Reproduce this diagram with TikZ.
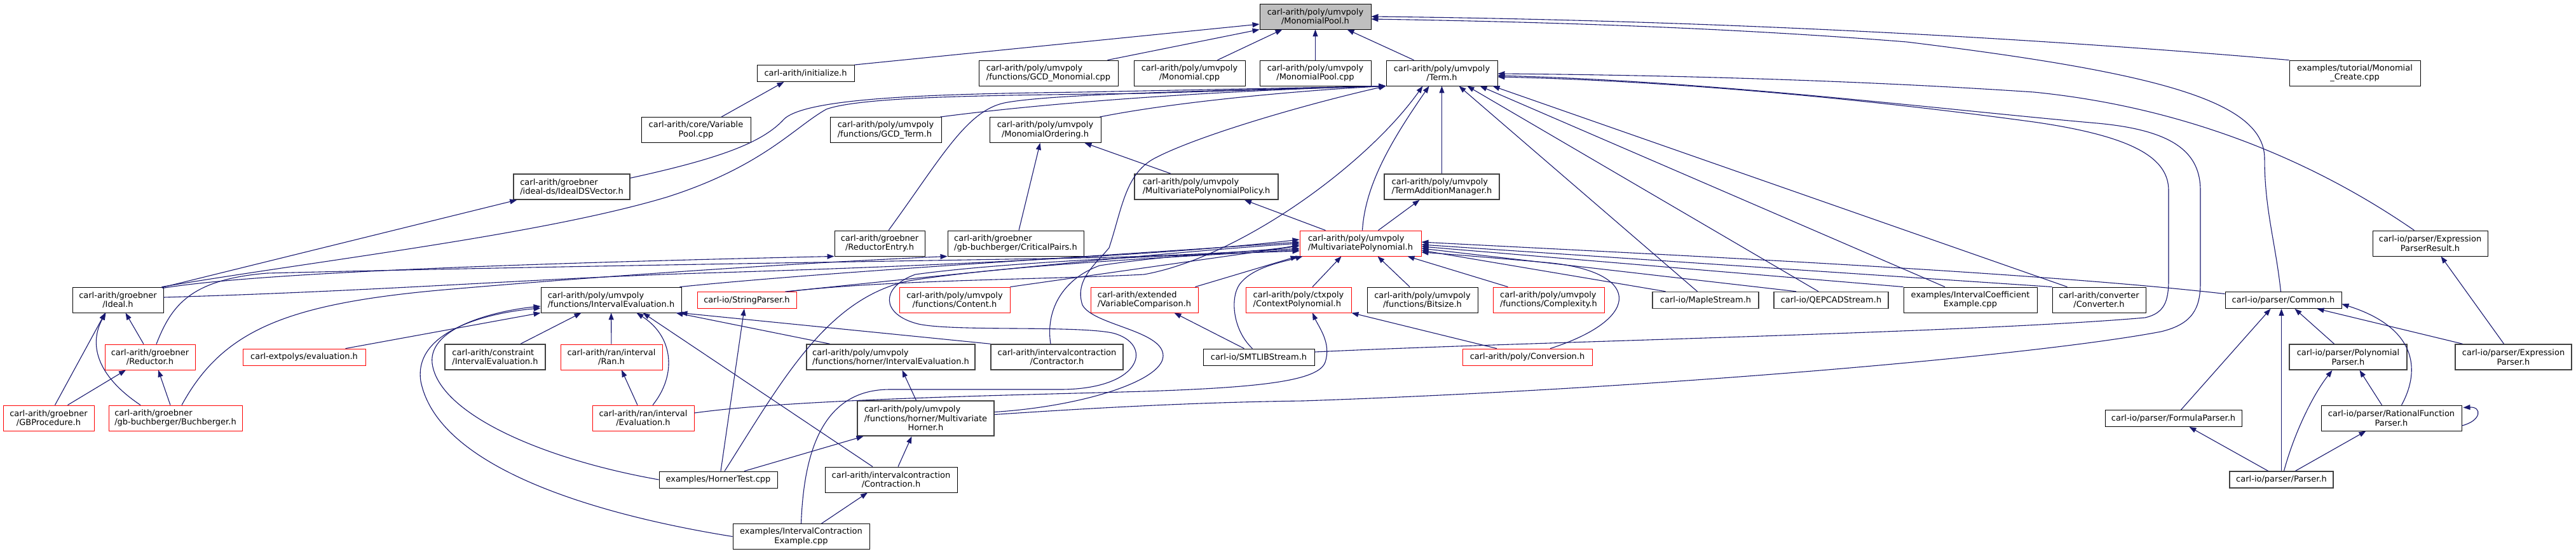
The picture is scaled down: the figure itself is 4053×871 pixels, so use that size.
\documentclass[tikz,border=0pt]{standalone}
\usepackage{fontspec}
\setmainfont{DejaVu Sans}
\usetikzlibrary{arrows.meta}
\definecolor{eblue}{HTML}{191970}
\definecolor{bgray}{HTML}{404040}
\definecolor{rootfill}{HTML}{BFBFBF}
\newcommand{\nodefnt}{\fontsize{13pt}{14.5pt}\selectfont}
\tikzset{
  bx/.style={draw=black, line width=0.9pt, fill=white, inner sep=0pt, minimum height=40pt, align=center, font=\nodefnt},
  lbx/.style={bx, align=left},
  sbx/.style={bx, minimum height=26pt},
  redb/.style={draw=red},
  grayb/.style={draw=bgray, line width=1.5pt},
  e/.style={draw=eblue, line width=1.1pt, -{Triangle[length=11pt,width=8pt]}},
}
\begin{document}
\begin{tikzpicture}[x=1pt,y=-1pt]
\useasboundingbox (0,0) rectangle (4053,871);
% nodes
\node[bx, fill=rootfill, minimum width=175pt] (mp) at (2069.5,26) {carl-arith/poly/umvpoly\\/MonomialPool.h};
\node[sbx, minimum width=153pt] (init) at (1267.5,115.5) {carl-arith/initialize.h};
\node[lbx, minimum width=219pt] (gcdm) at (1649.5,115) {carl-arith/poly/umvpoly\\/functions/GCD\_Monomial.cpp};
\node[bx, minimum width=175pt] (mono) at (1871.5,115) {carl-arith/poly/umvpoly\\/Monomial.cpp};
\node[bx, minimum width=175pt] (mpcpp) at (2069.5,115) {carl-arith/poly/umvpoly\\/MonomialPool.cpp};
\node[bx, minimum width=175pt] (term) at (2268.5,115) {carl-arith/poly/umvpoly\\/Term.h};
\node[bx, minimum width=206pt] (mcreate) at (3705,115) {examples/tutorial/Monomial\\\_Create.cpp};
\node[bx, minimum width=172pt] (vpool) at (1095,204.5) {carl-arith/core/Variable\\Pool.cpp};
\node[lbx, minimum width=175pt] (gcdt) at (1393.5,204.5) {carl-arith/poly/umvpoly\\/functions/GCD\_Term.h};
\node[bx, minimum width=175pt] (mord) at (1644.5,204.5) {carl-arith/poly/umvpoly\\/MonomialOrdering.h};
\node[lbx, grayb, minimum width=183pt] (idsv) at (899.5,294) {carl-arith/groebner\\/ideal-ds/IdealDSVector.h};
\node[lbx, grayb, minimum width=226pt] (policy) at (1898,294) {carl-arith/poly/umvpoly\\/MultivariatePolynomialPolicy.h};
\node[lbx, grayb, minimum width=181pt] (tam) at (2268.5,294) {carl-arith/poly/umvpoly\\/TermAdditionManager.h};
\node[bx, minimum width=142pt] (rentry) at (1384,383) {carl-arith/groebner\\/ReductorEntry.h};
\node[lbx, minimum width=214pt] (cpairs) at (1598,383) {carl-arith/groebner\\/gb-buchberger/CriticalPairs.h};
\node[lbx, redb, minimum width=191pt] (mvp) at (2140.5,383) {carl-arith/poly/umvpoly\\/MultivariatePolynomial.h};
\node[bx, minimum width=181pt] (epr) at (3823.5,383) {carl-io/parser/Expression\\ParserResult.h};
\node[bx, minimum width=143pt] (ideal) at (185.5,472) {carl-arith/groebner\\/Ideal.h};
\node[lbx, minimum width=221pt] (ie) at (961.5,472) {carl-arith/poly/umvpoly\\/functions/IntervalEvaluation.h};
\node[sbx, redb, minimum width=156pt] (sp) at (1175,472.5) {carl-io/StringParser.h};
\node[bx, redb, minimum width=174pt] (content) at (1502,472) {carl-arith/poly/umvpoly\\/functions/Content.h};
\node[lbx, redb, minimum width=169pt] (vcomp) at (1800.5,472) {carl-arith/extended\\/VariableComparison.h};
\node[lbx, redb, minimum width=166pt] (ctx) at (2043,472) {carl-arith/poly/ctxpoly\\/ContextPolynomial.h};
\node[bx, minimum width=174pt] (bits) at (2238,472) {carl-arith/poly/umvpoly\\/functions/Bitsize.h};
\node[lbx, redb, minimum width=175pt] (cplx) at (2436.5,472) {carl-arith/poly/umvpoly\\/functions/Complexity.h};
\node[sbx, grayb, minimum width=167pt] (maple) at (2683.5,472.5) {carl-io/MapleStream.h};
\node[sbx, grayb, minimum width=180pt] (qepcad) at (2881,472.5) {carl-io/QEPCADStream.h};
\node[bx, minimum width=210pt] (ice) at (3100,472) {examples/IntervalCoefficient\\Example.cpp};
\node[bx, minimum width=147pt] (conv) at (3302.5,472) {carl-arith/converter\\/Converter.h};
\node[sbx, minimum width=183pt] (common) at (3592.5,472.5) {carl-io/parser/Common.h};
\node[bx, redb, minimum width=142pt] (reductor) at (236,562) {carl-arith/groebner\\/Reductor.h};
\node[sbx, redb, minimum width=193pt] (extev) at (478.5,562) {carl-extpolys/evaluation.h};
\node[lbx, grayb, minimum width=158pt] (cie) at (779,562) {carl-arith/constraint\\/IntervalEvaluation.h};
\node[bx, redb, minimum width=160pt] (ran) at (962,562) {carl-arith/ran/interval\\/Ran.h};
\node[lbx, grayb, minimum width=265pt] (hie) at (1401.5,562) {carl-arith/poly/umvpoly\\/functions/horner/IntervalEvaluation.h};
\node[bx, grayb, minimum width=208pt] (contractor) at (1663,562) {carl-arith/intervalcontraction\\/Contractor.h};
\node[sbx, minimum width=175pt] (smtlib) at (1980.5,562) {carl-io/SMTLIBStream.h};
\node[sbx, redb, minimum width=204pt] (conversion) at (2403,562) {carl-arith/poly/Conversion.h};
\node[bx, grayb, minimum width=185pt] (pparser) at (3694.5,562) {carl-io/parser/Polynomial\\Parser.h};
\node[bx, grayb, minimum width=183pt] (eparser) at (3954.5,562) {carl-io/parser/Expression\\Parser.h};
\node[bx, redb, minimum width=143pt] (gbproc) at (76.5,658) {carl-arith/groebner\\/GBProcedure.h};
\node[lbx, redb, minimum width=210pt] (buch) at (276,658) {carl-arith/groebner\\/gb-buchberger/Buchberger.h};
\node[bx, redb, minimum width=160pt] (reval) at (1012,658) {carl-arith/ran/interval\\/Evaluation.h};
\node[lbx, grayb, minimum width=215pt, minimum height=55pt] (horner) at (1456.5,658.5) {carl-arith/poly/umvpoly\\/functions/horner/Multivariate\\\hfil Horner.h};
\node[sbx, minimum width=215pt] (fparser) at (3419.5,658.5) {carl-io/parser/FormulaParser.h};
\node[bx, minimum width=221pt] (rfparser) at (3762.5,658) {carl-io/parser/RationalFunction\\Parser.h};
\node[sbx, minimum width=186pt] (hornertest) at (1130,755) {examples/HornerTest.cpp};
\node[bx, minimum width=208pt] (contraction) at (1402,755) {carl-arith/intervalcontraction\\/Contraction.h};
\node[sbx, grayb, minimum width=163pt] (parser) at (3589.5,755) {carl-io/parser/Parser.h};
\node[bx, minimum width=215pt] (icex) at (1260.5,844.5) {examples/IntervalContraction\\Example.cpp};
% edges into MonomialPool.h
\draw[e] (init.north east) -- ([yshift=-12pt]mp.west);
\draw[e] ([xshift=-17pt]gcdm.north east) -- (mp.south west);
\draw[e] ([xshift=44pt]mono.north) -- ([xshift=-52pt]mp.south);
\draw[e] (mpcpp) -- (mp);
\draw[e] ([xshift=-44pt]term.north) -- ([xshift=50pt]mp.south);
\draw[e] (mcreate.north west) .. controls (3200,60) and (2700,32) .. (mp.east);
\draw[e] ([xshift=-4pt]common.north) .. controls (3580,380) and (3563,330) .. (3563,250) .. controls (3563,160) and (3400,115) .. (3000,66) .. controls (2700,42) and (2400,34) .. ([yshift=-4pt]mp.east);
\draw[e] ([xshift=40pt]vpool.north) -- ([xshift=-34pt]init.south);
% edges into Term.h
\draw[e] ([xshift=-2pt]gcdt.north east) .. controls (1700,155) and (2000,140) .. (term.south west);
\draw[e] ([xshift=-2pt]mord.north east) .. controls (1850,160) and (2050,142) .. (term.south west);
\draw[e] ([yshift=-7pt]idsv.north east) .. controls (1130,250) and (1200,225) .. (1234,187) .. controls (1270,155) and (1450,148) .. (1700,145) -- (term.south west);
\draw[e] ([xshift=-3pt]ideal.north east) .. controls (500,410) and (850,370) .. (1050,310) .. controls (1200,262) and (1250,200) .. (1300,172) .. controls (1360,150) and (1600,150) .. (1800,147) -- (term.south west);
\draw[e] ([xshift=14pt]rentry.north) .. controls (1480,250) and (1520,175) .. (1580,162) .. controls (1650,148) and (1900,143) .. (term.south west);
\draw[e] ([yshift=10pt]horner.east) .. controls (1700,640) and (1830,600) .. (1830,560) .. controls (1830,520) and (1720,512) .. (1703,480) .. controls (1690,440) and (1725,415) .. (1745,390) .. controls (1765,330) and (1770,275) .. (1815,250) .. controls (1880,215) and (2050,165) .. (term.south west);
\draw[e] ([xshift=3pt]mvp.north) .. controls (2148,290) and (2190,220) .. ([xshift=-20pt]term.south);
\draw[e] (tam) -- (term);
\draw[e] ([xshift=-13pt]maple.north) -- ([xshift=27pt]term.south);
\draw[e] ([xshift=-20pt]qepcad.north) -- ([xshift=40pt]term.south);
\draw[e] ([xshift=-40pt]ice.north) -- ([xshift=60pt]term.south);
\draw[e] ([xshift=-50pt]conv.north) -- ([xshift=80pt]term.south);
\draw[e] ([xshift=-25pt]epr.north) .. controls (3650,260) and (3450,170) .. (3200,145) .. controls (2900,125) and (2600,118) .. ([yshift=-1pt]term.east);
\draw[e] ([yshift=6pt]horner.east) .. controls (1750,640) and (1900,633) .. (2050,631) .. controls (2600,612) and (3200,560) .. (3400,522) .. controls (3450,510) and (3462,485) .. (3462,445) -- (3462,300) .. controls (3462,240) and (3420,205) .. (3300,194) .. controls (3050,172) and (2700,128) .. ([yshift=-4pt]term.east);
\draw[e] ([yshift=8pt]smtlib.east) .. controls (2400,538) and (3100,524) .. (3375,500) .. controls (3405,493) and (3412,475) .. (3412,440) -- (3412,300) .. controls (3412,250) and (3360,215) .. (3200,192) .. controls (2950,158) and (2650,128) .. ([yshift=-6pt]term.east);
\draw[e] ([xshift=-15pt]sp.north east) .. controls (1400,440) and (1650,440) .. (1800,432) .. controls (1950,405) and (2150,260) .. ([xshift=-30pt]term.south);
% left area
\draw[e] ([xshift=-3pt,yshift=-1pt]ideal.north east) -- ([xshift=6pt]idsv.south west);
\draw[e] ([xshift=-2pt,yshift=-2pt]ideal.north east) .. controls (400,430) and (800,415) .. (rentry.south west);
\draw[e] ([xshift=10pt]reductor.north) .. controls (270,480) and (300,440) .. (420,430) .. controls (900,418) and (1500,410) .. (1750,405) .. controls (1900,400) and (2000,395) .. ([yshift=-2pt]mvp.west);
\draw[e] ([yshift=4pt]ideal.east) .. controls (600,458) and (850,438) .. (1100,430) .. controls (1500,418) and (1850,400) .. ([yshift=6pt]mvp.west);
\draw[e] ([xshift=10pt]buch.north) .. controls (350,520) and (450,478) .. (700,456) .. controls (1000,430) and (1300,412) .. (cpairs.south west);
% into MultivariatePolynomial.h
\draw[e] ([xshift=-3pt]ie.north east) .. controls (1300,428) and (1700,405) .. ([yshift=2pt]mvp.west);
\draw[e] ([xshift=-18pt]sp.north east) .. controls (1500,432) and (1800,400) .. (mvp.west);
\draw[e] (content.north east) -- ([yshift=-4pt]mvp.west);
\draw[e] ([xshift=-10pt]contractor.north) .. controls (1645,490) and (1670,440) .. (1730,418) .. controls (1850,400) and (1950,397) .. ([yshift=-8pt]mvp.west);
\draw[e] ([xshift=10pt]hornertest.north) .. controls (1230,600) and (1300,470) .. (1430,442) .. controls (1600,415) and (1900,402) .. ([yshift=-10pt]mvp.west);
\draw[e] (icex.north) .. controls (1265,700) and (1300,613) .. (1400,613) -- (1670,613) .. controls (1800,612) and (1815,540) .. (1750,524) .. controls (1690,512) and (1500,522) .. (1445,510) .. controls (1385,495) and (1385,452) .. (1440,432) .. controls (1600,410) and (1900,400) .. ([yshift=-12pt]mvp.west);
\draw[e] ([xshift=-5pt]vcomp.north east) -- ([xshift=-3pt]mvp.south west);
\draw[e] ([xshift=-10pt]smtlib.north) .. controls (1940,520) and (1935,470) .. (1950,448) .. controls (1970,420) and (2020,412) .. ([xshift=5pt]mvp.south west);
\draw[e] ([xshift=-56pt]policy.north) -- ([xshift=62pt]mord.south);
\draw[e] ([xshift=5pt]cpairs.north) -- ([xshift=-8pt]mord.south);
\draw[e] ([xshift=-55pt]mvp.north) -- ([xshift=60pt]policy.south);
\draw[e] ([xshift=28pt]mvp.north) -- ([xshift=-35pt]tam.south);
\draw[e] ([xshift=36pt]conversion.north) .. controls (2590,500) and (2580,425) .. (2430,413) .. controls (2340,405) and (2280,400) .. ([yshift=-14pt]mvp.east);
\draw[e] ([xshift=-63pt]maple.north) -- ([yshift=-11pt]mvp.east);
\draw[e] ([xshift=-55pt]qepcad.north) -- ([yshift=-8pt]mvp.east);
\draw[e] (ice.north west) -- ([yshift=-5pt]mvp.east);
\draw[e] (conv.north west) -- ([yshift=-2pt]mvp.east);
\draw[e] ([yshift=10pt]common.west) .. controls (3200,428) and (2600,400) .. ([yshift=2pt]mvp.east);
\draw[e] ([xshift=22pt]ctx.north) -- ([xshift=-30pt]mvp.south);
\draw[e] ([xshift=-20pt]bits.north) -- ([xshift=27pt]mvp.south);
\draw[e] ([xshift=-64pt]cplx.north) -- ([xshift=74pt]mvp.south);
\draw[e] ([xshift=-48pt]conversion.north) -- (ctx.south east);
\draw[e] ([yshift=8pt]reval.east) .. controls (1250,628) and (1600,622) .. (1800,616) .. controls (1980,610) and (2075,600) .. (2085,570) .. controls (2095,540) and (2075,515) .. ([xshift=22pt]ctx.south);
\draw[e] ([xshift=-23pt]smtlib.north) -- ([xshift=47pt]vcomp.south);
% groebner
\draw[e] ([xshift=-10pt]reductor.north) -- ([xshift=12pt]ideal.south);
\draw[e] ([xshift=10pt]gbproc.north) -- ([xshift=-20pt]ideal.south);
\draw[e] ([xshift=30pt]gbproc.north) -- ([xshift=-38pt]reductor.south);
\draw[e] ([xshift=-8pt]buch.north) -- ([xshift=13pt]reductor.south);
\draw[e] ([xshift=-55pt]buch.north) .. controls (150,590) and (140,540) .. ([xshift=-19pt]ideal.south);
% interval evaluation
\draw[e] ([xshift=40pt]cie.north) -- ([xshift=-47pt]ie.south);
\draw[e] (ran) -- (ie);
\draw[e] ([xshift=15pt]reval.north) .. controls (1065,590) and (1060,530) .. ([xshift=40pt]ie.south);
\draw[e] ([xshift=-9pt]reval.north) -- ([xshift=16pt]ran.south);
\draw[e] ([xshift=65pt]extev.north) -- (ie.south west);
\draw[e] (hornertest.west) .. controls (850,722) and (690,650) .. (680,572) .. controls (673,512) and (790,488) .. ([yshift=-10pt]ie.west);
\draw[e] (icex.west) .. controls (950,812) and (690,740) .. (662,600) .. controls (650,520) and (770,492) .. ([yshift=-13pt]ie.west);
\draw[e] ([xshift=-96pt]hie.north) -- ([xshift=102pt]ie.south);
\draw[e] (contractor.north west) -- ([xshift=-2pt]ie.south east);
\draw[e] ([xshift=-29pt]contraction.north) -- ([xshift=50pt]ie.south);
\draw[e] ([xshift=4pt]hornertest.north) -- ([xshift=-4pt]sp.south);
\draw[e] ([xshift=41pt]hornertest.north) -- ([xshift=-98pt]horner.south);
\draw[e] ([xshift=11pt]contraction.north) -- ([xshift=-22pt]horner.south);
\draw[e] ([xshift=-15pt]horner.north) -- ([xshift=18pt]hie.south);
\draw[e] ([xshift=32pt]icex.north) -- ([xshift=-37pt]contraction.south);
% parsers
\draw[e] ([xshift=12pt]fparser.north) -- ([xshift=-20pt]common.south);
\draw[e] (parser.north) -- ([xshift=-3pt]common.south);
\draw[e] ([xshift=-22pt]pparser.north) -- ([xshift=18pt]common.south);
\draw[e] ([xshift=-80pt]eparser.north) -- ([xshift=53pt]common.south);
\draw[e] ([xshift=16pt]rfparser.north) .. controls (3810,580) and (3800,515) .. ([yshift=-6pt]common.east);
\draw[e] ([xshift=4pt]parser.north) .. controls (3610,680) and (3640,620) .. ([xshift=-25pt]pparser.south);
\draw[e] ([xshift=-15pt]rfparser.north) -- ([xshift=18pt]pparser.south);
\draw[e] ([xshift=-21pt]parser.north) -- ([xshift=25pt]fparser.south);
\draw[e] ([xshift=22pt]parser.north) -- ([xshift=-40pt]rfparser.south);
\draw[e] ([yshift=-12pt]rfparser.east) .. controls (3905,662) and (3905,640) .. ([xshift=2pt,yshift=-4pt]rfparser.north east);
\draw[e] ([xshift=-15pt]eparser.north) -- ([xshift=17pt]epr.south);
\end{tikzpicture}
\end{document}
